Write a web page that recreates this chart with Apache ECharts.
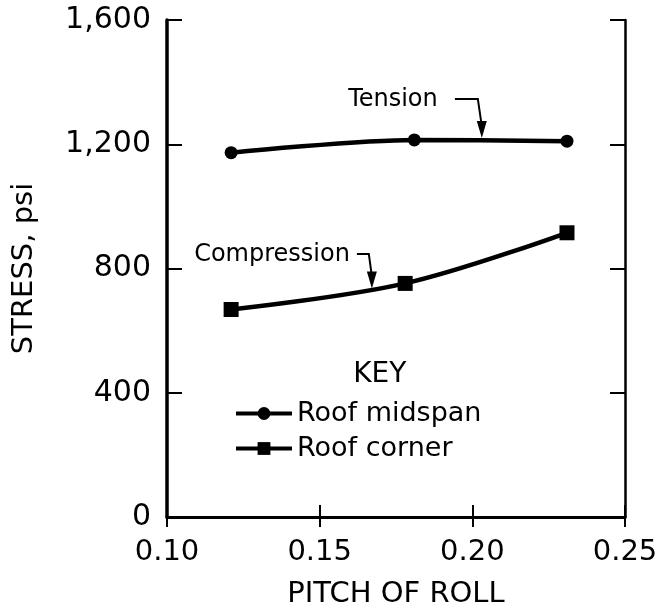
<!DOCTYPE html>
<html><head><meta charset="utf-8">
<script src="https://cdn.jsdelivr.net/npm/echarts@6/dist/echarts.min.js"></script>
<style>html,body{margin:0;padding:0;background:#fff}#c{width:660px;height:605px}</style>
</head><body><div id="c"></div>
<script>
// Data
const midspanPitch = [0.121, 0.181, 0.231];
const midspanStress = [1173, 1214, 1210];
const cornerPitch = [0.121, 0.178, 0.231];
const cornerStress = [668, 752, 915];
const seriesNames = ['Roof midspan', 'Roof corner'];
const xTickValues = [0.10, 0.15, 0.20, 0.25];
const yTickValues = [0, 400, 800, 1200, 1600];
const annotationTexts = ['Tension', 'Compression'];

const FONT = 'DejaVu Sans';
const chart = echarts.init(document.getElementById('c'), null, {renderer: 'canvas'});

function pairs(xs, ys) { return xs.map((x, i) => [x, ys[i]]); }
function fmtY(v) { return String(v).replace(/\B(?=(\d{3})+(?!\d))/g, ','); }

const axisLineStyle = {color: '#000', width: 2.5};
const option = {
  backgroundColor: '#fff',
  animation: false,
  grid: {left: 167, right: 35, top: 20, bottom: 88, containLabel: false, outerBoundsMode: 'none'},
  xAxis: [{
    type: 'value', min: xTickValues[0], max: xTickValues[xTickValues.length - 1], interval: 0.05,
    position: 'bottom',
    name: 'PITCH OF ROLL', nameLocation: 'middle', nameGap: 63,
    nameTextStyle: {fontFamily: FONT, fontSize: 29, color: '#000'},
    axisLine: {show: true, lineStyle: {color: '#000', width: 3}},
    axisTick: {show: true, inside: true, length: 12, lineStyle: {color: '#000', width: 2}},
    axisLabel: {fontFamily: FONT, fontSize: 29, color: '#000', margin: 21, formatter: v => v.toFixed(2)},
    splitLine: {show: false}
  }, {
    type: 'value', min: xTickValues[0], max: xTickValues[xTickValues.length - 1], interval: 0.05,
    position: 'top',
    axisLine: {show: true, lineStyle: axisLineStyle},
    axisTick: {show: true, inside: true, length: 10, lineStyle: {color: '#000', width: 2}},
    axisLabel: {show: false}, splitLine: {show: false}
  }],
  yAxis: [{
    type: 'value', min: 0, max: 1600, interval: 400, position: 'left',
    name: 'STRESS, psi', nameLocation: 'middle', nameGap: 128,
    nameTextStyle: {fontFamily: FONT, fontSize: 29, color: '#000'},
    axisLine: {show: true, lineStyle: {color: '#000', width: 3.5}},
    axisTick: {show: true, inside: true, length: 15, lineStyle: {color: '#000', width: 2}},
    axisLabel: {fontFamily: FONT, fontSize: 30, color: '#000', margin: 16, formatter: fmtY},
    splitLine: {show: false}
  }, {
    type: 'value', min: 0, max: 1600, interval: 400, position: 'right',
    axisLine: {show: true, lineStyle: axisLineStyle},
    axisTick: {show: true, inside: true, length: 15, lineStyle: {color: '#000', width: 2}},
    axisLabel: {show: false}, splitLine: {show: false}
  }],
  legend: {
    orient: 'vertical', left: 229, top: 395, itemGap: 8,
    itemWidth: 56, itemHeight: 16,
    lineStyle: {width: 4, color: '#000'},
    textStyle: {fontFamily: FONT, fontSize: 27, color: '#000'},
    data: seriesNames
  },
  series: [{
    name: seriesNames[0], type: 'line', smooth: 0.3,
    data: pairs(midspanPitch, midspanStress),
    symbol: 'circle', symbolSize: 13,
    lineStyle: {color: '#000', width: 4.5},
    itemStyle: {color: '#000'}
  }, {
    name: seriesNames[1], type: 'line', smooth: 0.35,
    data: pairs(cornerPitch, cornerStress),
    symbol: 'rect', symbolSize: 15,
    lineStyle: {color: '#000', width: 4.5},
    itemStyle: {color: '#000'}
  }]
};
chart.setOption(option);

// Annotations placed in data coordinates
const P = (x, y) => chart.convertToPixel({xAxisIndex: 0, yAxisIndex: 0}, [x, y]);
function arrow(start, corner, tip) {
  const a = P(...start), b = P(...corner), c = P(...tip);
  return [
    {type: 'polyline', shape: {points: [a, b, [c[0], c[1] - 12]]}, style: {stroke: '#000', lineWidth: 2, fill: null}},
    {type: 'polygon', shape: {points: [[c[0] - 5, c[1] - 17], [c[0] + 5, c[1] - 17], [c[0], c[1]]]}, style: {fill: '#000'}}
  ];
}
const tPos = P(0.174, 1342), cPos = P(0.1344, 843), keyPos = P(0.1697, 458);
const graphics = [
  {type: 'text', x: tPos[0], y: tPos[1], style: {text: annotationTexts[0], font: '24px "DejaVu Sans"', fill: '#000', textAlign: 'center', textVerticalAlign: 'middle'}},
  {type: 'text', x: cPos[0], y: cPos[1], style: {text: annotationTexts[1], font: '24px "DejaVu Sans"', fill: '#000', textAlign: 'center', textVerticalAlign: 'middle'}},
  {type: 'text', x: keyPos[0], y: keyPos[1], style: {text: 'KEY', font: '28px "DejaVu Sans"', fill: '#000', textAlign: 'center', textVerticalAlign: 'middle'}}
].concat(arrow([0.1943, 1346], [0.2018, 1346], [0.2031, 1220]))
 .concat(arrow([0.1622, 847], [0.1661, 847], [0.1671, 736]));
chart.setOption({graphic: graphics});
</script>
</body></html>
